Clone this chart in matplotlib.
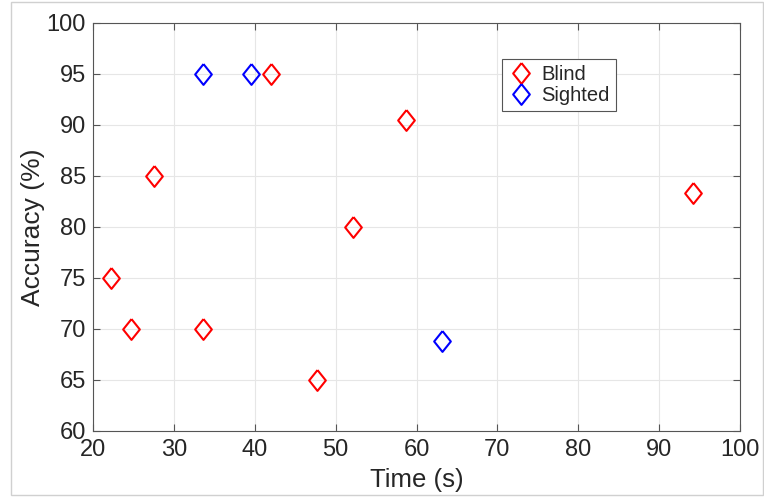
import matplotlib
matplotlib.use("Agg")
import matplotlib.pyplot as plt
from matplotlib.patches import Rectangle

plt.rcParams["font.family"] = ["Liberation Sans", "DejaVu Sans"]

# data
blind_time = [22.2, 24.7, 27.6, 33.6, 42.0, 47.7, 52.2, 58.65, 94.2]
blind_acc  = [75, 70, 85, 70, 95, 65, 80, 90.5, 83.3]
sighted_time = [33.6, 39.5, 63.1]
sighted_acc  = [95, 95, 68.8]

x_ticks = list(range(20, 101, 10))
y_ticks = list(range(60, 101, 5))

diamond = [(0, 1), (0.8, 0), (0, -1), (-0.8, 0), (0, 1)]
text_col = "#262626"

fig = plt.figure(figsize=(7.64, 4.97), dpi=100)
ax = fig.add_axes([93 / 764, 66 / 497, 647 / 764, 408 / 497])

ax.plot(blind_time, blind_acc, linestyle="none", marker=diamond,
        markersize=15, markerfacecolor="none", markeredgecolor="#ff0000",
        markeredgewidth=1.5, label="Blind")
ax.plot(sighted_time, sighted_acc, linestyle="none", marker=diamond,
        markersize=15, markerfacecolor="none", markeredgecolor="#0000ff",
        markeredgewidth=1.5, label="Sighted")

ax.set_xlim(20, 100)
ax.set_ylim(60, 100)
ax.set_xticks(x_ticks)
ax.set_yticks(y_ticks)
ax.grid(True, color="#e6e6e6", linewidth=0.8)
ax.set_axisbelow(True)
ax.tick_params(direction="in", top=True, right=True, length=5,
               width=0.8, colors="#555555", labelcolor=text_col,
               labelsize=17)
ax.tick_params(axis="x", pad=6)
ax.tick_params(axis="y", pad=5)
for sp in ax.spines.values():
    sp.set_color("#555555")
    sp.set_linewidth(0.8)

ax.set_xlabel("Time (s)", fontsize=18.5, color=text_col, labelpad=5)
ax.set_ylabel("Accuracy (%)", fontsize=19, color=text_col, labelpad=1)

leg = ax.legend(loc="upper left", bbox_to_anchor=(0.632, 0.912),
                borderaxespad=0, fancybox=False, fontsize=14.5,
                handlelength=1.3, handletextpad=0.35, borderpad=0.3,
                labelspacing=0.12, framealpha=1)
leg.get_frame().set_edgecolor("#555555")
leg.get_frame().set_linewidth(0.8)
for t in leg.get_texts():
    t.set_color(text_col)

# light frame around the whole figure
fig.patches.append(Rectangle((11 / 764, 2 / 497), 752 / 764, 493 / 497,
                             transform=fig.transFigure, fill=False,
                             edgecolor="#d0d0d0", linewidth=1))

fig.savefig("out.png", dpi=100)
